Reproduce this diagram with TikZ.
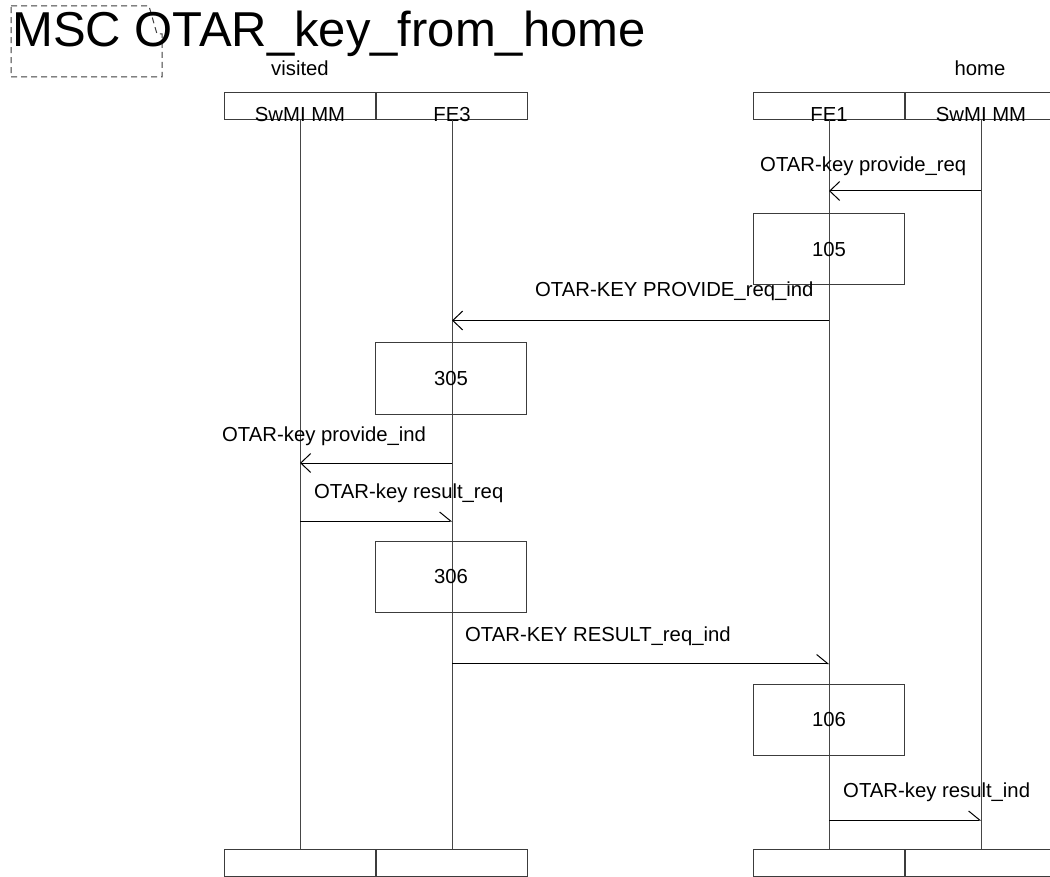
\documentclass[tikz,border=0pt]{standalone}
\usepackage{fontspec}
\setmainfont{Liberation Sans}
\usetikzlibrary{arrows.meta,positioning,calc}
\definecolor{LifeGray}{RGB}{70,70,70}
\definecolor{BoxGray}{RGB}{60,60,60}
\tikzset{
  instance/.style={draw=BoxGray,line width=1pt,minimum width=151pt,
    minimum height=27pt,inner sep=0pt},
  instname/.style={font=\fontsize{20.3}{24}\selectfont,inner sep=0pt,anchor=base},
  action/.style={draw=BoxGray,line width=1pt,minimum width=151pt,
    minimum height=71pt,inner sep=0pt,font=\fontsize{20.3}{24}\selectfont},
  lifeline/.style={LifeGray,line width=1pt},
  msgleft/.style={black,line width=1pt,
    -{Straight Barb[length=10pt,width=19pt,line width=1pt]}},
  msgright/.style={black,line width=1pt,
    -{Straight Barb[harpoon,length=11pt,width=18pt,line width=1pt]}},
  msgtext/.style={font=\fontsize{20.3}{24}\selectfont,inner sep=0pt,
    anchor=base west}
}

\begin{document}
\begin{tikzpicture}[x=1pt,y=-1pt]
\useasboundingbox (0,0) rectangle (1050,877);
\clip (0,0) rectangle (1050,877);

% title with comment frame
\draw[BoxGray,line width=1pt,dash pattern=on 6pt off 4pt]
  (11,6) -- (149,6) -- (157,34) -- (162,34) -- (162,77) -- (11,77) -- cycle;
\node[anchor=base west,inner sep=0pt,font=\fontsize{49}{56}\selectfont]
  (title) at (12,47) {MSC OTAR\_key\_from\_home};

% instances
\node[instance] (vmm) at (300,106.5) {};
\node[instance,right=0pt of vmm] (fe3) {};
\node[instance] (fe1) at (829,106.5) {};
\node[instance,right=0pt of fe1] (hmm) {};
\node[instname] at ([yshift=-1pt]vmm.south) {SwMI MM};
\node[instname] at ([yshift=-1pt]fe3.south) {FE3};
\node[instname] at ([yshift=-1pt]fe1.south) {FE1};
\node[instname] at ([yshift=-1pt]hmm.south) {SwMI MM};
\node[instname] (visited) at (300,76) {visited};
\node[instname] (home) at (980,76) {home};

\node[instance,anchor=north] (vmmE) at (300,849) {};
\node[instance,right=0pt of vmmE] (fe3E) {};
\node[instance,anchor=north] (fe1E) at (829,849) {};
\node[instance,right=0pt of fe1E] (hmmE) {};

\foreach \a/\b in {vmm/vmmE,fe3/fe3E,fe1/fe1E,hmm/hmmE}
  \draw[lifeline] (\a.south) -- (\b.north);

% actions
\node[action] (a105) at (829,249.5) {105};
\node[action] (a305) at (451,378.5) {305};
\node[action] (a306) at (451,576.5) {306};
\node[action] (a106) at (829,720) {106};

% messages
\draw[msgleft] (hmm.south |- 0,191) -- (fe1.south |- 0,191);
\node[msgtext] at (760,172) {OTAR-key provide\_req};
\draw[msgleft] (fe1.south |- 0,320.5) -- (fe3.south |- 0,320.5);
\node[msgtext] at (535,297) {OTAR-KEY PROVIDE\_req\_ind};
\draw[msgleft] (fe3.south |- 0,463) -- (vmm.south |- 0,463);
\node[msgtext] at (222,441) {OTAR-key provide\_ind};
\draw[msgright] (vmm.south |- 0,521) -- (fe3.south |- 0,521);
\node[msgtext] at (314,498) {OTAR-key result\_req};
\draw[msgright] (fe3.south |- 0,663.5) -- (fe1.south |- 0,663.5);
\node[msgtext] at (465,641) {OTAR-KEY RESULT\_req\_ind};
\draw[msgright] (fe1.south |- 0,820) -- (hmm.south |- 0,820);
\node[msgtext] at (843,797) {OTAR-key result\_ind};
\end{tikzpicture}
\end{document}
